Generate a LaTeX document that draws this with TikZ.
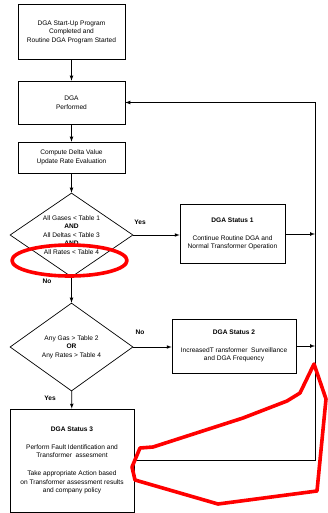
\documentclass[tikz,border=0pt]{standalone}
\usepackage{fontspec}
\setmainfont{Liberation Sans}
\usetikzlibrary{shapes.geometric}

\begin{document}
\begin{tikzpicture}[x=1pt,y=-1pt,
    box/.style={draw,line width=0.7pt,align=center,inner sep=0pt,
      font=\fontsize{6.6}{8.6}\selectfont},
    decision/.style={draw,diamond,line width=0.7pt,inner sep=0pt},
    lbl/.style={font=\fontsize{6.6}{8}\selectfont\bfseries,inner sep=0pt},
    flow/.style={line width=0.7pt,-latex},
    redmark/.style={red,line width=3.6pt,line join=round}]
  \useasboundingbox (0,0) rectangle (327,513);

  % main column
  \node[box,minimum width=107pt,minimum height=55pt] (start) at (71.5,32)
    {DGA Start-Up Program\\Completed and\\Routine DGA Program Started};
  \node[box,minimum width=107pt,minimum height=43pt] (dga) at (71.5,102.5)
    {DGA\\Performed};
  \node[box,minimum width=107pt,minimum height=31pt] (delta) at (71.5,157.5)
    {Compute Delta Value\\Update Rate Evaluation};
  \node[decision,minimum width=123pt,minimum height=84pt] (gate1) at (71.5,235) {};
  \node[box,draw=none] (gate1txt) at (gate1.center)
    {All Gases < Table 1\\\textbf{AND}\\All Deltas < Table 3\\\textbf{AND}\\All Rates < Table 4};
  \node[decision,minimum width=123pt,minimum height=88pt] (gate2) at (71.5,347) {};
  \node[box,draw=none] (gate2txt) at (gate2.center)
    {Any Gas > Table 2\\\textbf{OR}\\Any Rates > Table 4};
  \node[box,minimum width=124pt,minimum height=103pt] (status3) at (72,460.5)
    {\textbf{DGA Status 3}\\[9pt]Perform Fault Identification and\\Transformer\ \ assesment\\[9pt]
     Take appropriate\ Action based\\on Transformer\ assessment results\\and company policy};

  % right side
  \node[box,minimum width=105pt,minimum height=59pt] (status1) at (232.5,234)
    {\textbf{DGA Status 1}\\[9pt]Continue Routine DGA and\\Normal Transformer\ Operation};
  \node[box,minimum width=124pt,minimum height=54pt] (status2) at (234,346)
    {\textbf{DGA Status 2}\\[9pt]IncreasedT ransformer\ \ Surveillance\\and DGA Frequency};
  \coordinate (rail) at (315,0);

  \draw[flow] (start) -- (dga);
  \draw[flow] (dga) -- (delta);
  \draw[flow] (delta) -- (gate1);
  \draw[flow] (gate1.east) -- (status1.west |- gate1.east);
  \draw[flow] (gate1) -- (gate2);
  \draw[flow] (gate2.east) -- (status2.west |- gate2.east);
  \draw[flow] (gate2) -- (status3);
  \draw[flow] (status1.east) -- (status1.east -| rail);
  \draw[flow] (status2.east) -- (status2.east -| rail);
  \draw[flow] (status3.east) -- (status3.east -| rail) |- (dga.east);

  \node[lbl] (yes1) at (140,222) {Yes};
  \node[lbl] (no1) at (47,281) {No};
  \node[lbl] (no2) at (140,332) {No};
  \node[lbl] (yes2) at (50,398) {Yes};

  % red marks
  \draw[redmark] (69.5,260.5) ellipse [x radius=57.5pt, y radius=15.5pt];
  \draw[redmark] (132,467) -- (140,448) -- (153,447) -- (243,418) -- (287,401)
    -- (300,393) -- (314,364) -- (326,399) -- (317,491) -- (218,504)
    -- (135,480) -- cycle;
\end{tikzpicture}
\end{document}
